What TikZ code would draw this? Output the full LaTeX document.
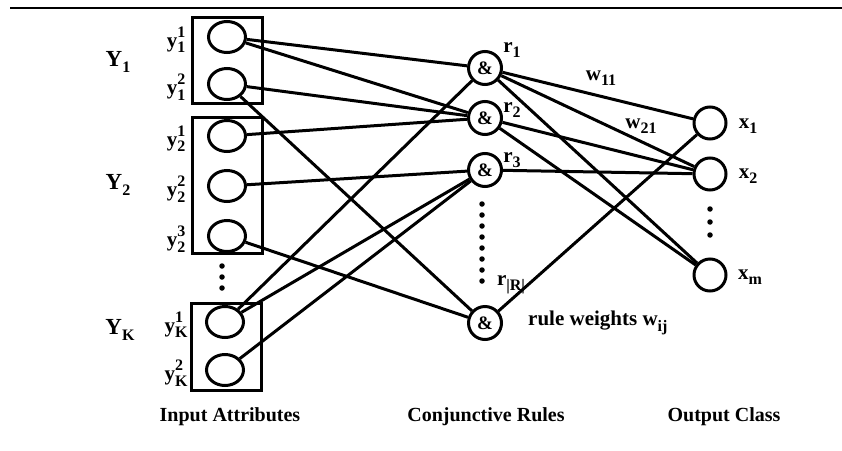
\documentclass[tikz,border=0pt]{standalone}
\usepackage{fontspec}
\setmainfont{Liberation Serif}
\usetikzlibrary{shapes.geometric}
\newcommand{\supsub}[3]{#1\rlap{\raisebox{1.05ex}{\fontsize{16}{16}\selectfont #2}}\raisebox{-0.55ex}{\fontsize{16}{16}\selectfont #3}}
\newcommand{\subonly}[2]{#1\raisebox{-0.55ex}{\fontsize{16}{16}\selectfont #2}}
\tikzset{
  inp/.style={draw, ellipse, line width=3pt, inner sep=0pt, minimum width=37pt, minimum height=31pt},
  conj/.style={draw, circle, line width=3pt, inner sep=0pt, minimum size=33pt, font=\fontsize{19}{19}\selectfont\bfseries},
  outp/.style={draw, circle, line width=3pt, inner sep=0pt, minimum size=32pt},
  grp/.style={draw, line width=3pt},
  conn/.style={line width=3pt},
  lbl/.style={font=\fontsize{21}{21}\selectfont\bfseries, inner sep=0pt},
  big/.style={font=\fontsize{23}{23}\selectfont\bfseries, inner sep=0pt},
  captxt/.style={font=\fontsize{20}{20}\selectfont\bfseries, inner sep=0pt},
  dotm/.style={fill=black, circle, inner sep=0pt, minimum size=5.5pt}
}
\begin{document}
\begin{tikzpicture}[x=1pt, y=-1pt]
\useasboundingbox (0,0) rectangle (842,450);
\draw[line width=2pt] (10,8) -- (842,8);
% group boxes
\draw[grp] (192,17) rectangle (262,103);
\draw[grp] (192,117) rectangle (262,253);
\draw[grp] (191,303) rectangle (261,390);
% input nodes
\node[inp] (y11) at (227,37) {};
\node[inp] (y12) at (227,84) {};
\node[inp] (y21) at (227,136) {};
\node[inp] (y22) at (227,186) {};
\node[inp] (y23) at (227,236) {};
\node[inp] (yK1) at (225,322) {};
\node[inp] (yK2) at (225,370) {};
% input labels
\node[lbl] (ly11) at (176,40) {\supsub{y}{1}{1}};
\node[lbl] (ly12) at (176,87) {\supsub{y}{2}{1}};
\node[lbl] (ly21) at (176,139) {\supsub{y}{1}{2}};
\node[lbl] (ly22) at (176,189) {\supsub{y}{2}{2}};
\node[lbl] (ly23) at (176,239) {\supsub{y}{3}{2}};
\node[lbl] (lyK1) at (176,325) {\supsub{y}{1}{K}};
\node[lbl] (lyK2) at (176,373) {\supsub{y}{2}{K}};
\node[big] (Y1) at (118,62) {\subonly{Y}{1}};
\node[big] (Y2) at (118,185) {\subonly{Y}{2}};
\node[big] (YK) at (120,330) {\subonly{Y}{K}};
% input dots
\foreach \yy in {266,277,288} \node[dotm] at (222,\yy) {};
% conjunctive nodes
\node[conj] (r1) at (485,68) {\&};
\node[conj] (r2) at (485,118) {\&};
\node[conj] (r3) at (485,170) {\&};
\node[conj] (rR) at (485,323) {\&};
\node[lbl] (lr1) at (512,50) {\subonly{r}{1}};
\node[lbl] (lr2) at (512,110) {\subonly{r}{2}};
\node[lbl] (lr3) at (512,160) {\subonly{r}{3}};
\node[lbl] (lrR) at (511,285) {\subonly{r}{|R|}};
\foreach \yy in {204,215,226,237,248,259,270,281} \node[dotm] at (482,\yy) {};
\node[lbl, anchor=west] (rw) at (528,323) {rule weights \subonly{w}{ij}};
% output nodes
\node[outp] (x1) at (710,123) {};
\node[outp] (x2) at (710,174) {};
\node[outp] (xm) at (710,275) {};
\node[lbl] (lx1) at (748,126) {\subonly{x}{1}};
\node[lbl] (lx2) at (748,176) {\subonly{x}{2}};
\node[lbl] (lxm) at (750,277) {\subonly{x}{m}};
\foreach \yy in {209,222,235} \node[dotm] at (710,\yy) {};
\node[lbl] (w11) at (601,78) {\subonly{w}{11}};
\node[lbl] (w21) at (641,126) {\subonly{w}{21}};
% connections left
\draw[conn] (y11) -- (r1);
\draw[conn] (y11) -- (r2);
\draw[conn] (y12) -- (r2);
\draw[conn] (y12) -- (rR);
\draw[conn] (y21) -- (r2);
\draw[conn] (y22) -- (r3);
\draw[conn] (y23) -- (rR);
\draw[conn] (yK1) -- (r1);
\draw[conn] (yK1) -- (r3);
\draw[conn] (yK2) -- (r3);
% connections right
\draw[conn] (r1) -- (x1);
\draw[conn] (r1) -- (x2);
\draw[conn] (r1) -- (xm);
\draw[conn] (r2) -- (x2);
\draw[conn] (r2) -- (xm);
\draw[conn] (r3) -- (x2);
\draw[conn] (rR) -- (x1);
% captions
\node[captxt] (c1) at (230,417) {Input Attributes};
\node[captxt] (c2) at (486,417) {Conjunctive Rules};
\node[captxt] (c3) at (724,417) {Output Class};
\end{tikzpicture}
\end{document}
